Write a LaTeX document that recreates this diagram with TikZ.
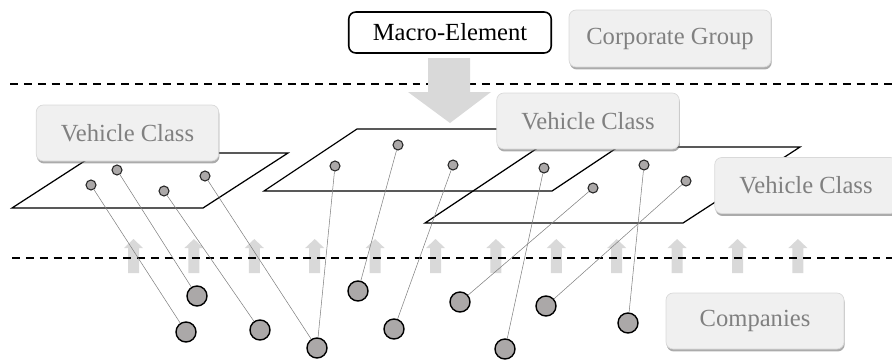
\documentclass[tikz,border=0pt]{standalone}
\usepackage{xcolor}
\usepackage{fontspec}
\setmainfont{Liberation Serif}
\usepackage{tikz}
\usetikzlibrary{arrows, positioning, calc, shadows}

\definecolor{dotgray}{HTML}{ABA8A8}
\definecolor{arrowgray}{HTML}{D9D9D9}

\begin{document}
\begin{tikzpicture}[x=0.02cm,y=-0.02cm,>=stealth',
			class box/.style={rectangle,rounded corners=4pt,draw=black!15,fill=black!6,text=black!50,
				font=\fontsize{14}{16}\selectfont,minimum width=3.65cm,minimum height=1.12cm,
				drop shadow={shadow xshift=0.4pt,shadow yshift=-1.4pt,fill=black!60,opacity=0.55}},
			macro box/.style={rectangle,rounded corners=4pt,draw=black,line width=0.9pt,fill=white,
				font=\fontsize{14}{16}\selectfont,minimum width=4.05cm,minimum height=0.82cm},
			small dot/.style={circle,draw=black!85,line width=0.6pt,fill=dotgray,inner sep=0pt,minimum size=0.2cm},
			big dot/.style={circle,draw=black,line width=0.8pt,fill=dotgray,inner sep=0pt,minimum size=0.4cm},
			plane/.style={draw=black,line width=0.7pt},
			layer line/.style={line width=1.3pt,dash pattern=on 4.5pt off 3.4pt},
			link/.style={draw=black!50,line width=0.3pt}]
			
			\useasboundingbox (0,0) rectangle (892,359);
			
			% layer borders and arrows
			\draw[layer line] (10,84) -- (892,84);
			\fill[arrowgray] (428,58) -- (470,58) -- (470,92) -- (491,92) -- (450,123) -- (408,92) -- (428,92) -- cycle;
			\foreach \k in {0,...,11}
			\fill[arrowgray] ({133.5+60.4*\k-5.5},273) -- ++(0,-25) -- ++(-4,0) -- ++(9.5,-9) -- ++(9.5,9) -- ++(-4,0) -- ++(0,25) -- cycle;
			\draw[layer line] (12,258) -- (892,258);
			
			% planes
			\draw[plane] (12,208) -- (203,208) -- (288,153) -- (97,153) -- cycle;
			\draw[plane] (264,191) -- (552,191) -- (645,129) -- (357,129) -- cycle;
			\draw[plane] (425,223) -- (683,223) -- (800,147) -- (539,147) -- cycle;
			
			\node[macro box] (macro) at (450,32.5) {Macro-Element};
			\node[class box,minimum width=4.04cm,minimum height=1.14cm] (corp) at (670,38.5) {Corporate Group};
			\node[class box] (vc1) at (127.5,133) {Vehicle Class};
			\node[class box] (vc2) at (588,121) {Vehicle Class};
			\node[class box] (vc3) at (806,185.5) {Vehicle Class};
			\node[class box,minimum width=3.56cm] (comp) at (755,321) {Companies};
			
			% dots on the planes
			\node[small dot] (a1) at (91,185) {};
			\node[small dot] (a2) at (117,170) {};
			\node[small dot] (a3) at (164,191) {};
			\node[small dot] (a4) at (205,176) {};
			\node[small dot] (b1) at (335,166) {};
			\node[small dot] (b2) at (398,145) {};
			\node[small dot] (b3) at (453,165) {};
			\node[small dot] (b4) at (544,168) {};
			\node[small dot] (c1) at (593,188) {};
			\node[small dot] (c2) at (644,165) {};
			\node[small dot] (c3) at (686,181) {};
			
			% companies
			\node[big dot] (k1) at (186,332) {};
			\node[big dot] (k2) at (197,296) {};
			\node[big dot] (k3) at (260,330) {};
			\node[big dot] (k4) at (317,348) {};
			\node[big dot] (k5) at (358,291) {};
			\node[big dot] (k6) at (394,329) {};
			\node[big dot] (k7) at (460,302) {};
			\node[big dot] (k8) at (505,349) {};
			\node[big dot] (k9) at (546,306) {};
			\node[big dot] (k10) at (628,323) {};
			
			\path[link]
			(a1) edge (k1)
			(a2) edge (k2)
			(a3) edge (k3)
			(a4) edge (k4)
			(b1) edge (k4)
			(b2) edge (k5)
			(b3) edge (k6)
			(b4) edge (k8)
			(c1) edge (k7)
			(c2) edge (k10)
			(c3) edge (k9);
		\end{tikzpicture}
\end{document}
